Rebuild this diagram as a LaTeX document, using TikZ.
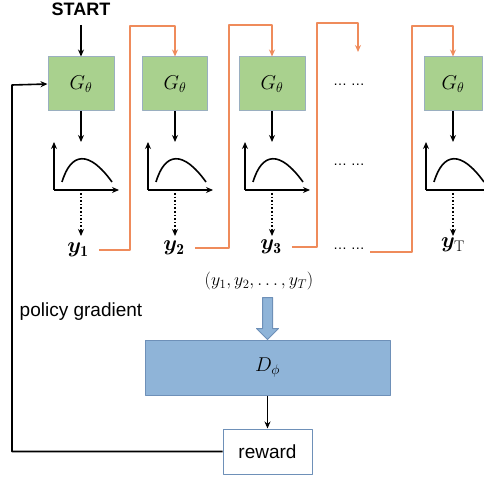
\RequirePackage{fix-cm}
\documentclass[tikz,border=0pt]{standalone}
\usepackage{amsmath,bm}
\usepackage{fontspec}
\setsansfont{Liberation Sans}
\usetikzlibrary{positioning,arrows.meta}
\definecolor{genGreen}{HTML}{A9D18E}
\definecolor{genEdge}{HTML}{9AAFC0}
\definecolor{discBlue}{HTML}{8FB4D8}
\definecolor{discEdge}{HTML}{6E90B8}
\definecolor{seqOrange}{HTML}{EF8B5B}
\begin{document}
\begin{tikzpicture}[x=1pt,y=-1pt,line join=round,>={Stealth[length=7pt,width=6pt]},
  font=\fontsize{20}{22}\selectfont,
  gen/.style={draw=genEdge,fill=genGreen,line width=1pt,minimum height=54pt,inner sep=0pt},
  blk/.style={line width=1.6pt},
  seq/.style={draw=seqOrange,line width=1.8pt,->},
  token/.style={font=\fontsize{22}{24}\selectfont,inner sep=2pt},
  dots/.style={font=\fontsize{14}{16}\sffamily}]
\useasboundingbox (0,0) rectangle (484,478);
% generator steps
\node[gen,minimum width=66pt] (g1) at (81,84) {$G_\theta$};
\node[gen,minimum width=65pt] (g2) at (175,84) {$G_\theta$};
\node[gen,minimum width=66pt] (g3) at (272,84) {$G_\theta$};
\node[gen,minimum width=58pt] (gT) at (453,84) {$G_\theta$};
\node[font=\fontsize{18}{20}\sffamily\bfseries] (start) at (81,9) {START};
\draw[blk,->,shorten <=6pt] (start.south) -- (g1.north);
% sampled distributions
\foreach \i/\cx in {1/81,2/175,3/272,T/453}{
  \coordinate (p\i top) at (\cx,142);
  \coordinate (p\i out) at (\cx,193);
  \coordinate (p\i in) at (\cx,236);
  \draw[blk,->] (g\i.south) -- (p\i top);
  \draw[blk,->] (\cx-27,190) -- (\cx-27,142);
  \draw[blk,->] (\cx-27,190) -- (\cx+38,190);
  \draw[blk] (\cx-19,182) .. controls (\cx-10,152) and (\cx+8,150) .. (\cx+31,182);
  \draw[blk,dotted,->] (p\i out) -- (p\i in);
}
\node[token] (y1) at (78,250) {$\bm{y}_{\mathbf{1}}$};
\node[token] (y2) at (174,248) {$\bm{y}_{\mathbf{2}}$};
\node[token] (y3) at (271,247) {$\bm{y}_{\mathbf{3}}$};
\node[token] (yT) at (453,245) {$\bm{y}_{\mathrm{T}}$};
\node[dots] (dotsA) at (349,85) {… …};
\node[dots] (dotsB) at (349,165) {… …};
\node[dots] (dotsC) at (349,249) {… …};
% feeding each token to the next step
\coordinate (t1) at (130,26);
\coordinate (t2) at (229,25);
\coordinate (t3) at (317,23);
\coordinate (t4) at (412,26);
\coordinate (dotsIn) at (358,52);
\draw[seq] ([xshift=8pt]y1.east) -| (t1) -| (g2.north);
\draw[seq] ([xshift=8pt]y2.east) -| (t2) -| (g3.north);
\draw[seq] ([xshift=8pt]y3.east) -| (t3) -| (dotsIn);
\draw[seq] ([xshift=2pt,yshift=-3pt]dotsC.east) -| (t4) -| (gT.north);
% discriminator
\node[font=\fontsize{18}{20}\selectfont] (seqall) at (259,281) {$(y_1,y_2,\ldots,y_T)$};
\node[draw=discEdge,fill=discBlue,line width=1pt,minimum width=245pt,minimum height=55pt] (D) at (267.5,367.5) {$D_\phi$};
\draw[draw=discEdge,fill=discBlue,line width=1pt] (D.north) -- ++(-11,-11) -- ++(6,0) -- ++(0,-31)
  -- ++(10,0) -- ++(0,31) -- ++(6,0) -- cycle;
\node[draw=discEdge,line width=1pt,minimum width=89pt,minimum height=45pt,font=\fontsize{19}{21}\sffamily] (reward) at (267.5,451.5) {reward};
\draw[blk,->] (D.south) -- (reward.north);
\node[font=\fontsize{19}{21}\sffamily] (pg) at (81,312) {policy gradient};
\coordinate (fbk) at (12,85);
\draw[blk,->] (reward.west) -| (fbk) -- (g1.west);
\end{tikzpicture}
\end{document}
